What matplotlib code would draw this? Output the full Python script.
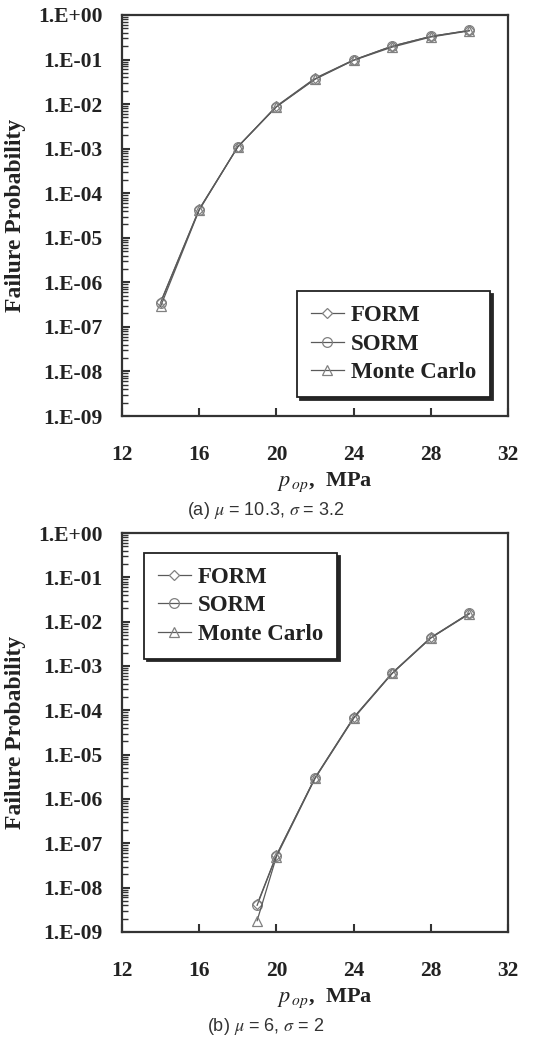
import matplotlib
matplotlib.use("Agg")
import matplotlib.pyplot as plt
import matplotlib.ticker as mticker
import numpy as np

plt.rcParams['font.family'] = ['Liberation Serif', 'DejaVu Serif']
plt.rcParams['mathtext.fontset'] = 'stix'

# data
p_a = [14, 16, 18, 20, 22, 24, 26, 28, 30]
form_a = [3.6e-7, 4.4e-5, 1.1e-3, 9.0e-3, 3.8e-2, 9.8e-2, 0.20, 0.33, 0.45]
sorm_a = [3.5e-7, 4.3e-5, 1.1e-3, 8.8e-3, 3.7e-2, 9.7e-2, 0.20, 0.33, 0.45]
mc_a = [2.9e-7, 4.2e-5, 1.1e-3, 8.7e-3, 3.6e-2, 9.6e-2, 0.19, 0.32, 0.44]

p_b = [19, 20, 22, 24, 26, 28, 30]
form_b = [4.2e-9, 5.4e-8, 3.0e-6, 6.9e-5, 7.0e-4, 4.4e-3, 1.55e-2]
sorm_b = [4.0e-9, 5.3e-8, 3.0e-6, 6.8e-5, 6.9e-4, 4.3e-3, 1.55e-2]
mc_b = [1.8e-9, 5.0e-8, 2.9e-6, 6.6e-5, 6.8e-4, 4.3e-3, 1.5e-2]

x_ticks = [12, 16, 20, 24, 28, 32]
y_ticks = [1e-9, 1e-8, 1e-7, 1e-6, 1e-5, 1e-4, 1e-3, 1e-2, 1e-1, 1e0]
labels = ["FORM", "SORM", "Monte Carlo"]
captions = [r"(a) $\mu$ = 10.3, $\sigma$ = 3.2", r"(b) $\mu$ = 6, $\sigma$ = 2"]

fig = plt.figure(figsize=(5.38, 10.39), dpi=100)
ax1 = fig.add_axes([0.2268, 0.5996, 0.7175, 0.386])
ax2 = fig.add_axes([0.2268, 0.1030, 0.7175, 0.384])

line_c = '#5a5a5a'
ax_c = '#333333'


def yfmt(v, pos):
    e = int(round(np.log10(v)))
    s = '+' if e >= 0 else '-'
    return "1.E%s%02d" % (s, abs(e))


def draw(ax, x, f, s, m, leg_loc, leg_anchor):
    ax.plot(x, f, '-', color=line_c, lw=0.9, marker='D', ms=5, mfc='white', mec='#808080', mew=0.9, label=labels[0])
    ax.plot(x, s, '-', color=line_c, lw=0.9, marker='o', ms=7, mfc='none', mec='#808080', mew=0.9, label=labels[1])
    ax.plot(x, m, '-', color=line_c, lw=0.9, marker='^', ms=7, mfc='none', mec='#808080', mew=0.9, label=labels[2])
    ax.set_yscale('log')
    ax.set_xlim(12, 32)
    ax.set_ylim(1e-9, 1e0)
    ax.set_xticks(x_ticks)
    ax.set_yticks(y_ticks)
    ax.yaxis.set_major_formatter(mticker.FuncFormatter(yfmt))
    ax.yaxis.set_minor_locator(mticker.LogLocator(base=10, subs=np.arange(2, 10), numticks=20))
    ax.yaxis.set_minor_formatter(mticker.NullFormatter())
    ax.tick_params(axis='x', direction='in', length=6, width=1.5, color=ax_c, pad=21, labelsize=15.5, top=False)
    ax.tick_params(axis='y', which='major', direction='in', length=6, width=1.5, color=ax_c, pad=14, labelsize=15.5, right=False)
    ax.tick_params(axis='y', which='minor', direction='in', length=4, width=1.0, color=ax_c, right=False)
    for lab in ax.get_xticklabels() + ax.get_yticklabels():
        lab.set_fontweight('bold')
        lab.set_color('#222222')
    for sp in ax.spines.values():
        sp.set_linewidth(1.6)
        sp.set_color(ax_c)
    ax.set_ylabel("Failure Probability", fontsize=17, fontweight='bold', color='#222222')
    ax.yaxis.set_label_coords(-0.25, 0.5)
    ax.text(0.525, -0.165, r"$p_{\,op}$,  MPa", transform=ax.transAxes, ha='center', va='center',
            fontsize=16, fontweight='bold', color='#222222')
    leg = ax.legend(loc=leg_loc, bbox_to_anchor=leg_anchor, prop={'size': 16.5, 'weight': 'bold'},
                    frameon=True, fancybox=False,
                    shadow={'color': '0.15', 'alpha': 1.0}, handlelength=1.45, handletextpad=0.3,
                    labelspacing=0.33, borderpad=0.6, borderaxespad=0.0)
    leg.get_frame().set_edgecolor('#222222')
    leg.get_frame().set_linewidth(1.3)
    for t in leg.get_texts():
        t.set_color('#222222')


draw(ax1, p_a, form_a, sorm_a, mc_a, 'lower right', (0.953, 0.047))
draw(ax2, p_b, form_b, sorm_b, mc_b, 'upper left', (0.057, 0.95))

fig.text(0.494, 0.509, captions[0], ha='center', va='center', fontsize=13,
         family=['Liberation Sans', 'DejaVu Sans'], color='#333333')
fig.text(0.494, 0.0125, captions[1], ha='center', va='center', fontsize=13,
         family=['Liberation Sans', 'DejaVu Sans'], color='#333333')

fig.savefig("out.png", dpi=100)
